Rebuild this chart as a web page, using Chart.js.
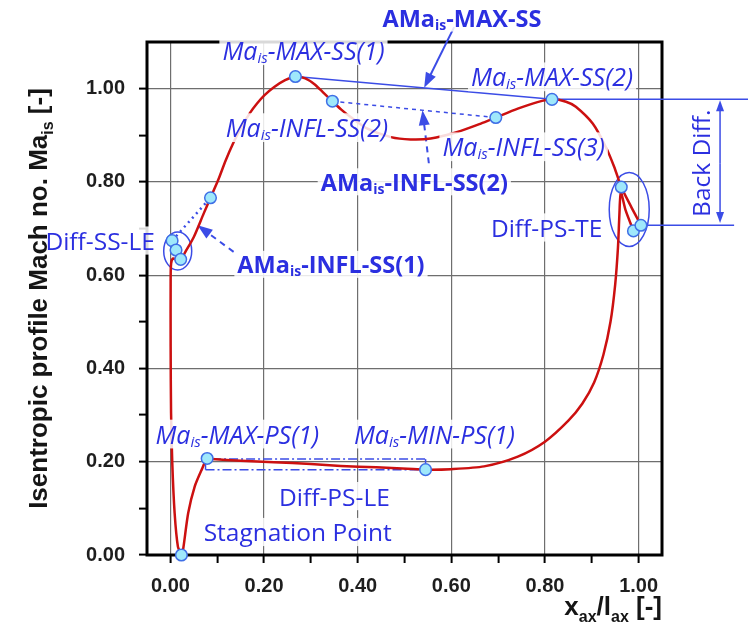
<!DOCTYPE html>
<html>
<head>
<meta charset="utf-8">
<title>Isentropic profile Mach number</title>
<script src="https://cdn.jsdelivr.net/npm/chart.js@4.4.1/dist/chart.umd.min.js"></script>
<style>
  html, body { margin: 0; padding: 0; background: #ffffff; }
  .chart-wrap { position: relative; width: 748px; height: 626px; }
</style>
</head>
<body>
<div class="chart-wrap"><canvas id="machChart"></canvas></div>
<script>
// Suction side: stagnation point -> round the leading edge -> trailing edge
const ssX = [0.0235, 0.016, 0.009, 0.004, 0.0014, 0.0005, 0.0005, 0.0015, 0.006, 0.014, 0.022, 0.032, 0.05, 0.071, 0.0856,
             0.102, 0.118, 0.135, 0.15, 0.17, 0.185, 0.2, 0.221, 0.245, 0.267, 0.288, 0.307, 0.325, 0.346, 0.365, 0.385,
             0.421, 0.471, 0.513, 0.556, 0.613, 0.663, 0.695, 0.742, 0.784, 0.815, 0.845, 0.866, 0.902, 0.93, 0.948,
             0.963, 0.985, 1.005];
const ssY = [0.0, 0.018, 0.09, 0.197, 0.304, 0.447, 0.59, 0.625, 0.636, 0.632, 0.633, 0.65, 0.682, 0.732, 0.766,
             0.804, 0.846, 0.885, 0.915, 0.948, 0.968, 0.985, 1.003, 1.018, 1.026, 1.022, 1.01, 0.993, 0.973, 0.955, 0.939,
             0.914, 0.896, 0.891, 0.893, 0.907, 0.925, 0.938, 0.957, 0.971, 0.977, 0.972, 0.961, 0.925, 0.875, 0.832,
             0.789, 0.745, 0.707];

// Pressure side: stagnation point -> trailing edge
const psX = [0.0235, 0.027, 0.038, 0.052, 0.066, 0.0785, 0.089, 0.15, 0.221, 0.3, 0.364, 0.44, 0.506, 0.545, 0.599,
             0.67, 0.742, 0.80, 0.85, 0.88, 0.905, 0.925, 0.94, 0.95, 0.956, 0.959, 0.962, 0.972, 0.989];
const psY = [0.0, 0.011, 0.09, 0.147, 0.181, 0.207, 0.2056, 0.202, 0.199, 0.195, 0.191, 0.188, 0.185, 0.183, 0.184,
             0.19, 0.211, 0.243, 0.288, 0.325, 0.37, 0.43, 0.50, 0.58, 0.66, 0.73, 0.778, 0.74, 0.695];

// Characteristic points (circles)
const markX = [0.0235, 0.0036, 0.012, 0.022, 0.0856, 0.267, 0.346, 0.695, 0.815, 0.963, 0.989, 1.005, 0.0785, 0.545];
const markY = [0.0, 0.674, 0.654, 0.634, 0.766, 1.026, 0.973, 0.938, 0.977, 0.789, 0.695, 0.707, 0.207, 0.183];

// Axis ticks every 0.1, labels only on every 0.2
const xTicks = [0, 0.1, 0.2, 0.3, 0.4, 0.5, 0.6, 0.7, 0.8, 0.9, 1.0];
const yTicks = [0, 0.1, 0.2, 0.3, 0.4, 0.5, 0.6, 0.7, 0.8, 0.9, 1.0];
const xTickLabels = ['0.00', '', '0.20', '', '0.40', '', '0.60', '', '0.80', '', '1.00'];
const yTickLabels = ['0.00', '', '0.20', '', '0.40', '', '0.60', '', '0.80', '', '1.00'];

const RED = '#cc1010';
const TEXT_BLUE = '#2b2fe0';
const LINE_BLUE = '#3b4ce6';
const AXIS_FONT = '"Liberation Sans", Arial, Helvetica, sans-serif';
const NOTE_FONT = '"Open Sans", "Noto Sans", sans-serif';

function toPoints(xs, ys) {
    return xs.map((x, i) => ({ x: x, y: ys[i] }));
}

// Annotation geometry, in data units
const guideLines = [
    { from: [0.267, 1.026], to: [0.815, 0.977], width: 1.5 },
    { from: [0.815, 0.977], to: [1.24, 0.977], width: 1.5 },
    { from: [1.005, 0.707], to: [1.204, 0.707], width: 1.5 },
    { from: [0.346, 0.973], to: [0.695, 0.938], width: 1.5, dash: [4, 4] },
    { from: [0.0036, 0.674], to: [0.0856, 0.766], width: 2.5, dash: [2, 4] },
    { from: [0.089, 0.2056], to: [0.545, 0.2056], width: 1.5, dash: [9, 3, 2, 3] },
    { from: [0.545, 0.2056], to: [0.545, 0.196], width: 1.5 },
    { from: [0.075, 0.183], to: [0.545, 0.183], width: 1.5, dash: [9, 3, 2, 3] },
    { from: [0.075, 0.183], to: [0.075, 0.195], width: 1.5 }
];
const arrows = [
    { from: [0.606, 1.132], to: [0.542, 1.002], width: 2 },
    { from: [0.552, 0.840], to: [0.5384, 0.9535], width: 2, dash: [6, 5] },
    { from: [0.135, 0.650], to: [0.058, 0.707], width: 2, dash: [6, 5] },
    { from: [1.174, 0.84], to: [1.174, 0.975], width: 1.5, head: 11, half: 4 },
    { from: [1.174, 0.84], to: [1.174, 0.712], width: 1.5, head: 11, half: 4 }
];
const ellipses = [
    { at: [0.0156, 0.652], rx: 14, ry: 19 },
    { at: [0.98, 0.741], rx: 20, ry: 37 }
];
const notes = [
    { text: 'AMa_{is}-MAX-SS', at: [0.453, 1.150], kind: 'bold' },
    { text: 'Ma_{is}-MAX-SS(1)', at: [0.111, 1.080], kind: 'italic' },
    { text: 'Ma_{is}-MAX-SS(2)', at: [0.642, 1.024], kind: 'italic' },
    { text: 'Ma_{is}-INFL-SS(2)', at: [0.118, 0.915], kind: 'italic' },
    { text: 'Ma_{is}-INFL-SS(3)', at: [0.581, 0.874], kind: 'italic' },
    { text: 'AMa_{is}-INFL-SS(2)', at: [0.321, 0.799], kind: 'bold' },
    { text: 'AMa_{is}-INFL-SS(1)', at: [0.143, 0.622], kind: 'bold' },
    { text: 'Diff-SS-LE', at: [-0.267, 0.673], kind: 'plain' },
    { text: 'Diff-PS-TE', at: [0.6845, 0.701], kind: 'plain' },
    { text: 'Ma_{is}-MAX-PS(1)', at: [-0.032, 0.258], kind: 'italic' },
    { text: 'Ma_{is}-MIN-PS(1)', at: [0.392, 0.258], kind: 'italic' },
    { text: 'Diff-PS-LE', at: [0.232, 0.125], kind: 'plain' },
    { text: 'Stagnation Point', at: [0.071, 0.048], kind: 'plain' },
    { text: 'Back Diff.', at: [1.134, 0.840], kind: 'plain', rotate: true }
];
const noteFonts = {
    bold: { style: 'normal', weight: '700', size: 23.5, family: NOTE_FONT },
    italic: { style: 'italic', weight: '400', size: 25, family: NOTE_FONT },
    plain: { style: 'normal', weight: '400', size: 24.5, family: NOTE_FONT }
};

function splitRich(text) {
    const parts = [];
    const re = /_\{([^}]*)\}/g;
    let last = 0, m;
    while ((m = re.exec(text))) {
        if (m.index > last) parts.push({ t: text.slice(last, m.index) });
        parts.push({ t: m[1], sub: true });
        last = re.lastIndex;
    }
    if (last < text.length) parts.push({ t: text.slice(last) });
    return parts;
}

// draws text with _{sub} parts; x = left edge, y = baseline
function drawRich(ctx, text, x, y, f, subDrop) {
    const parts = splitRich(text);
    const main = f.style + ' ' + f.weight + ' ' + f.size + 'px ' + f.family;
    const small = f.style + ' ' + f.weight + ' ' + Math.round(f.size * 0.6) + 'px ' + f.family;
    let cx = x;
    ctx.textAlign = 'left';
    ctx.textBaseline = 'alphabetic';
    parts.forEach(p => {
        ctx.font = p.sub ? small : main;
        ctx.fillText(p.t, cx, p.sub ? y + subDrop : y);
        cx += ctx.measureText(p.t).width;
    });
}

function richWidth(ctx, text, f) {
    const main = f.style + ' ' + f.weight + ' ' + f.size + 'px ' + f.family;
    const small = f.style + ' ' + f.weight + ' ' + Math.round(f.size * 0.6) + 'px ' + f.family;
    let w = 0;
    splitRich(text).forEach(p => {
        ctx.font = p.sub ? small : main;
        w += ctx.measureText(p.t).width;
    });
    return w;
}

function arrowHead(ctx, x1, y1, x2, y2, len, half) {
    const a = Math.atan2(y2 - y1, x2 - x1);
    const bx = x2 - len * Math.cos(a), by = y2 - len * Math.sin(a);
    ctx.beginPath();
    ctx.moveTo(x2, y2);
    ctx.lineTo(bx + half * Math.sin(a), by - half * Math.cos(a));
    ctx.lineTo(bx - half * Math.sin(a), by + half * Math.cos(a));
    ctx.closePath();
    ctx.fill();
}

const profileNotes = {
    id: 'profileNotes',
    beforeDatasetsDraw(chart) {
        const ctx = chart.ctx, a = chart.chartArea;
        const sx = chart.scales.x, sy = chart.scales.y;
        const P = (v) => [sx.getPixelForValue(v[0]), sy.getPixelForValue(v[1])];
        ctx.save();

        // plot frame
        ctx.strokeStyle = '#000';
        ctx.lineWidth = 3;
        ctx.strokeRect(a.left, a.top, a.right - a.left, a.bottom - a.top);

        ctx.strokeStyle = LINE_BLUE;
        ctx.fillStyle = LINE_BLUE;
        guideLines.forEach(g => {
            const p1 = P(g.from), p2 = P(g.to);
            ctx.lineWidth = g.width;
            ctx.setLineDash(g.dash || []);
            ctx.beginPath();
            ctx.moveTo(p1[0], p1[1]);
            ctx.lineTo(p2[0], p2[1]);
            ctx.stroke();
        });
        arrows.forEach(g => {
            const p1 = P(g.from), p2 = P(g.to);
            const len = g.head || 15, half = g.half || 5.5;
            const ang = Math.atan2(p2[1] - p1[1], p2[0] - p1[0]);
            ctx.lineWidth = g.width;
            ctx.setLineDash(g.dash || []);
            ctx.beginPath();
            ctx.moveTo(p1[0], p1[1]);
            ctx.lineTo(p2[0] - (len - 2) * Math.cos(ang), p2[1] - (len - 2) * Math.sin(ang));
            ctx.stroke();
            ctx.setLineDash([]);
            arrowHead(ctx, p1[0], p1[1], p2[0], p2[1], len, half);
        });
        ctx.setLineDash([]);
        ctx.lineWidth = 1.5;
        ellipses.forEach(e => {
            const c = P(e.at);
            ctx.beginPath();
            ctx.ellipse(c[0], c[1], e.rx, e.ry, 0, 0, Math.PI * 2);
            ctx.stroke();
        });
        ctx.restore();
    },
    afterDatasetsDraw(chart) {
        const ctx = chart.ctx, a = chart.chartArea;
        const sx = chart.scales.x, sy = chart.scales.y;
        ctx.save();

        notes.forEach(n => {
            const f = noteFonts[n.kind];
            const w = richWidth(ctx, n.text, f);
            const px = sx.getPixelForValue(n.at[0]);
            const py = sy.getPixelForValue(n.at[1]);
            const base = 0.36 * f.size;
            ctx.save();
            if (n.rotate) {
                ctx.translate(px, py);
                ctx.rotate(-Math.PI / 2);
                ctx.fillStyle = TEXT_BLUE;
                drawRich(ctx, n.text, -w / 2, base, f, 3);
            } else {
                ctx.fillStyle = 'rgba(255, 255, 255, 0.85)';
                ctx.fillRect(px - 3, py - 0.6 * f.size, w + 6, 1.15 * f.size);
                ctx.fillStyle = TEXT_BLUE;
                drawRich(ctx, n.text, px, py + base, f, 3);
            }
            ctx.restore();
        });

        // axis titles
        const tf = { style: 'normal', weight: '700', size: 26, family: AXIS_FONT };
        ctx.fillStyle = '#151515';
        const xw = richWidth(ctx, 'x_{ax}/l_{ax} [-]', tf);
        drawRich(ctx, 'x_{ax}/l_{ax} [-]', a.right - xw, 615, tf, 7);
        const yw = richWidth(ctx, 'Isentropic profile Mach no. Ma_{is} [-]', tf);
        ctx.translate(38, (a.top + a.bottom) / 2);
        ctx.rotate(-Math.PI / 2);
        drawRich(ctx, 'Isentropic profile Mach no. Ma_{is} [-]', -yw / 2, 9, tf, 6);
        ctx.restore();
    }
};

const axisTickFont = { family: AXIS_FONT, size: 20, weight: 'bold' };

const ctx = document.getElementById('machChart').getContext('2d');
const machChart = new Chart(ctx, {
    type: 'scatter',
    data: {
        datasets: [
            {
                label: 'Characteristic points',
                data: toPoints(markX, markY),
                order: 0,
                showLine: false,
                pointRadius: 5.8,
                pointBackgroundColor: '#9fe8fb',
                pointBorderColor: '#3f6fe6',
                pointBorderWidth: 1.5,
                clip: false
            },
            {
                label: 'Suction side',
                data: toPoints(ssX, ssY),
                order: 1,
                showLine: true,
                borderColor: RED,
                borderWidth: 2.5,
                pointRadius: 0,
                tension: 0.25,
                fill: false
            },
            {
                label: 'Pressure side',
                data: toPoints(psX, psY),
                order: 1,
                showLine: true,
                borderColor: RED,
                borderWidth: 2.5,
                pointRadius: 0,
                tension: 0.25,
                fill: false
            }
        ]
    },
    options: {
        responsive: true,
        maintainAspectRatio: false,
        animation: false,
        layout: {
            padding: { top: 42, right: 86, left: 0, bottom: 0 }
        },
        plugins: {
            legend: { display: false },
            tooltip: { enabled: false }
        },
        scales: {
            x: {
                type: 'linear',
                min: -0.05,
                max: 1.05,
                afterBuildTicks: function(scale) {
                    scale.ticks = xTicks.map(v => ({ value: v }));
                },
                afterFit: function(scale) {
                    scale.height = 71;
                },
                border: { display: false },
                grid: {
                    color: function(c) {
                        return c.tick && xTickLabels[c.index] ? '#6e6e6e' : 'rgba(0,0,0,0)';
                    },
                    lineWidth: 1.2,
                    tickColor: '#000',
                    tickLength: 8,
                    tickWidth: 2
                },
                ticks: {
                    autoSkip: false,
                    maxRotation: 0,
                    padding: 11,
                    color: '#1e1e1e',
                    font: axisTickFont,
                    callback: function(value, index) {
                        return xTickLabels[index];
                    }
                }
            },
            y: {
                type: 'linear',
                min: 0,
                max: 1.1,
                afterBuildTicks: function(scale) {
                    scale.ticks = yTicks.map(v => ({ value: v }));
                },
                afterFit: function(scale) {
                    scale.width = 147;
                },
                border: { display: false },
                grid: {
                    color: function(c) {
                        return c.tick && yTickLabels[c.index] ? '#6e6e6e' : 'rgba(0,0,0,0)';
                    },
                    lineWidth: 1.2,
                    tickColor: '#000',
                    tickLength: 8,
                    tickWidth: 2
                },
                ticks: {
                    autoSkip: false,
                    padding: 14,
                    color: '#1e1e1e',
                    font: axisTickFont,
                    callback: function(value, index) {
                        return yTickLabels[index];
                    }
                }
            }
        }
    },
    plugins: [profileNotes]
});
</script>
</body>
</html>
